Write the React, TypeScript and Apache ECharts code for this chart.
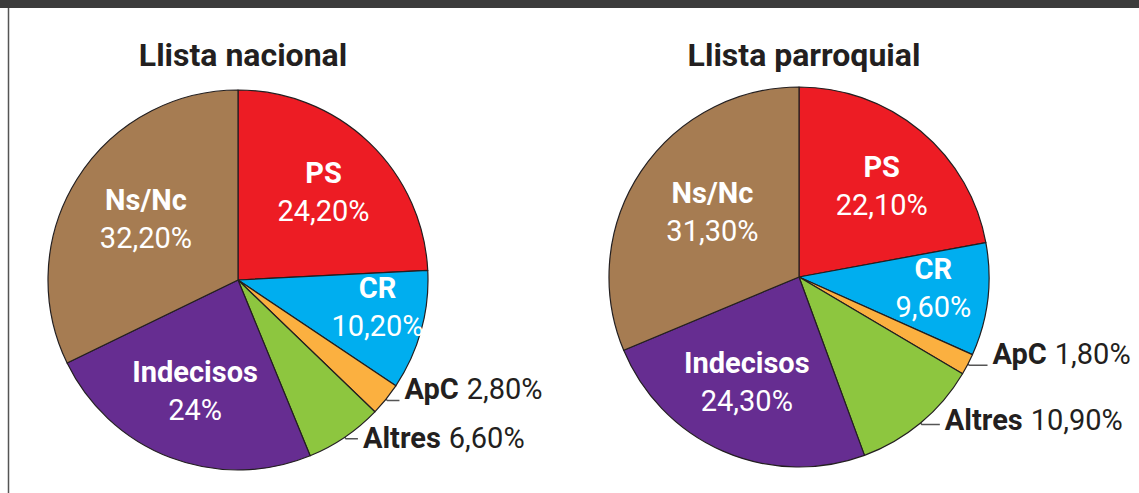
import React, { useEffect, useRef } from "react";
import * as echarts from "echarts";

const titles = ["Llista nacional", "Llista parroquial"];
const categories = ["PS", "CR", "ApC", "Altres", "Indecisos", "Ns/Nc"];
const valuesNacional = [24.2, 10.2, 2.8, 6.6, 24, 32.2];
const valuesParroquial = [22.1, 9.6, 1.8, 10.9, 24.3, 31.3];
const labelsNacional = ["24,20%", "10,20%", "2,80%", "6,60%", "24%", "32,20%"];
const labelsParroquial = ["22,10%", "9,60%", "1,80%", "10,90%", "24,30%", "31,30%"];
const outsideCats = ["ApC", "Altres"];

const colors = ["#ed1c24", "#00aeef", "#fbb040", "#8dc63f", "#662d91", "#a67c52"];
const FONT = "Roboto, 'Liberation Sans', sans-serif";

// fine placement offsets for inside labels (style only)
const insideOffsetsNacional: Record<string, number[]> = {
  PS: [18, -17],
  CR: [45, 1],
  Indecisos: [-8, 19],
  "Ns/Nc": [-9, -9],
};
const insideOffsetsParroquial: Record<string, number[]> = {
  PS: [20, -16],
  CR: [37, -1],
  Indecisos: [-13, 15],
  "Ns/Nc": [-5, -11],
};
const outsidePadNacional: Record<string, number> = { ApC: 24, Altres: 2 };
const outsidePadParroquial: Record<string, number> = { ApC: 22, Altres: 10 };

function buildData(values: number[], labels: string[], pads: Record<string, number>) {
  return categories.map((c, i) => {
    const outside = outsideCats.includes(c);
    return {
      name: c,
      value: values[i],
      itemStyle: { color: colors[i] },
      label: outside
        ? {
            position: "outside",
            formatter: `{b|${c}}{v|${labels[i]}}`,
            padding: [0, 0, pads[c], 0],
            rich: {
              b: { fontFamily: FONT, fontWeight: "bold", fontSize: 29, color: "#231f20", padding: [0, 8, 0, 0] },
              v: { fontFamily: FONT, fontSize: 29, color: "#231f20" },
            },
          }
        : {
            position: "inside",
            formatter: `{b|${c}}\n{v|${labels[i]}}`,
            rich: {
              b: { fontFamily: FONT, fontWeight: "bold", fontSize: 29, color: "#ffffff", lineHeight: 38, align: "center" },
              v: { fontFamily: FONT, fontSize: 29, color: "#ffffff", lineHeight: 38, align: "center" },
            },
          },
      labelLine: outside ? { show: true } : { show: false },
    };
  });
}

export default function App() {
  const ref = useRef<HTMLDivElement>(null);
  useEffect(() => {
    document.body.style.margin = "0";
    if (!ref.current) return;
    const chart = echarts.init(ref.current, null, { renderer: "svg" });
    const mkSeries = (
      center: number[],
      values: number[],
      labels: string[],
      offsets: Record<string, number[]>,
      pads: Record<string, number>,
      len2: number
    ) => ({
      type: "pie",
      center,
      radius: 190,
      startAngle: 90,
      clockwise: true,
      avoidLabelOverlap: false,
      silent: true,
      itemStyle: { borderColor: "#231f20", borderWidth: 1.2 },
      labelLine: { length: 2, length2: len2, lineStyle: { color: "#555555", width: 1.5 } },
      label: { show: true },
      labelLayout: (p: any) => {
        const o = offsets[categories[p.dataIndex]];
        return o ? { dx: o[0], dy: o[1] } : {};
      },
      data: buildData(values, labels, pads),
    });
    const titleStyle = { fontFamily: FONT, fontWeight: "bold", fontSize: 32, color: "#231f20" };
    chart.setOption({
      animation: false,
      backgroundColor: "#ffffff",
      title: [
        { text: titles[0], left: 238, top: 34, textAlign: "center", textStyle: titleStyle },
        { text: titles[1], left: 799, top: 34, textAlign: "center", textStyle: titleStyle },
      ],
      graphic: [
        { type: "rect", shape: { x: 0, y: 0, width: 1139, height: 8 }, style: { fill: "#3c3c3c" } },
        { type: "line", shape: { x1: 8.5, y1: 8, x2: 8.5, y2: 493 }, style: { stroke: "#555555", lineWidth: 1.5 } },
      ],
      series: [
        mkSeries([238, 280], valuesNacional, labelsNacional, insideOffsetsNacional, outsidePadNacional, 12),
        mkSeries([799, 277], valuesParroquial, labelsParroquial, insideOffsetsParroquial, outsidePadParroquial, 18),
      ],
    });
    return () => chart.dispose();
  }, []);
  return <div ref={ref} style={{ width: 1139, height: 493 }} />;
}
